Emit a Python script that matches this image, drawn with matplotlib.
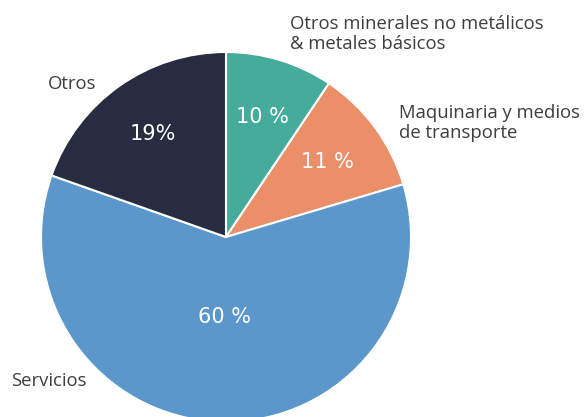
import numpy as np
import matplotlib
matplotlib.use('Agg')
import matplotlib.pyplot as plt

# data (shares; labels as printed)
sectors = ["Otros minerales no metálicos\n& metales básicos",
           "Maquinaria y medios\nde transporte",
           "Servicios",
           "Otros"]
shares = [9.4, 11.0, 60.0, 19.6]
pct_labels = ["10 %", "11 %", "60 %", "19%"]
colors = ["#45ab9a", "#eb8f68", "#5b97cb", "#272c40"]

W, H = 584, 417
plt.rcParams['font.family'] = ['Open Sans', 'DejaVu Sans']

fig = plt.figure(figsize=(W / 100, H / 100), dpi=100)
ax = fig.add_axes([0, 0, 1, 1])

# pie centre at (226, 237) px, radius 185 px
R = 185.0
cx, cy = 226.0, 237.0
wedges, _ = ax.pie(shares, colors=colors, startangle=90, counterclock=False,
                   radius=1.0, wedgeprops=dict(edgecolor='white', linewidth=1.5))
ax.set_xlim(-cx / R, (W - cx) / R)
ax.set_ylim(-(H - cy) / R, cy / R)
ax.set_aspect('equal')
ax.axis('off')

# percentage labels inside the wedges
pct_dist = [0.68, 0.68, 0.43, 0.68]
for w, lab, d in zip(wedges, pct_labels, pct_dist):
    ang = np.deg2rad((w.theta1 + w.theta2) / 2)
    ax.text(d * np.cos(ang), d * np.sin(ang), lab, color='white',
            fontsize=15, ha='center', va='center', family=['DejaVu Sans'])


def px(x, y):
    return x / W, 1 - y / H


label_pos = [(290, 34), (399, 123), (11, 381), (48, 84)]
for lab, (x, y) in zip(sectors, label_pos):
    fx, fy = px(x, y)
    fig.text(fx, fy, lab, color='#3d3d3d', fontsize=13.3, ha='left', va='center',
             linespacing=1.1)

fig.savefig('out.png', dpi=100)
